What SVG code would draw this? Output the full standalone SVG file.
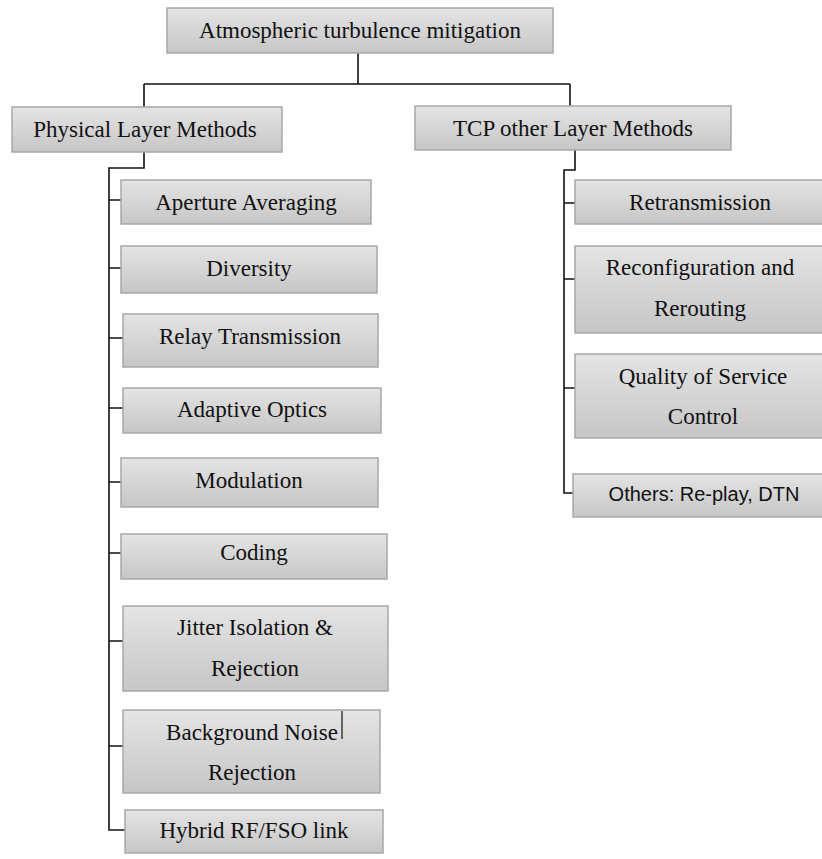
<svg xmlns="http://www.w3.org/2000/svg" width="822" height="859" viewBox="0 0 822 859">
<defs>
<linearGradient id="g" x1="0" y1="0" x2="0" y2="1">
<stop offset="0" stop-color="#e4e4e4"/>
<stop offset="1" stop-color="#c6c6c6"/>
</linearGradient>
</defs>
<style>
.b{fill:url(#g);stroke:#a8a8a8;stroke-width:1.5}
.t{font-family:"Liberation Serif","Times New Roman",serif;font-size:23px;fill:#111;text-anchor:middle}
.s{font-family:"Liberation Sans",Arial,sans-serif;font-size:20px;fill:#111;text-anchor:middle}
.c{fill:none;stroke:#111;stroke-width:1.6}
</style>
<rect width="822" height="859" fill="#fff"/>
<g id="connectors" class="c">
<path d="M358 53V84M144 84H570M144 84V107M570 84V106"/>
<path d="M144 152V168H109V830H125"/>
<path d="M109 200H121M109 268H121M109 338H123M109 408H123M109 482H121M109 553H121M109 641H123M109 746H123"/>
<path d="M575 150V170H564V493H573"/>
<path d="M564 203H575M564 279H575M564 388H575"/>
</g>
<g id="root"><rect class="b" x="167" y="8" width="386" height="45"/><text class="t" x="360" y="38">Atmospheric turbulence mitigation</text></g>
<g id="physical"><rect class="b" x="12" y="107" width="270" height="45"/><text class="t" x="145" y="137">Physical Layer Methods</text></g>
<g id="tcp"><rect class="b" x="415" y="106" width="316" height="44"/><text class="t" x="573" y="136">TCP other Layer Methods</text></g>
<g id="aperture"><rect class="b" x="121" y="180" width="250" height="44"/><text class="t" x="246" y="210">Aperture Averaging</text></g>
<g id="diversity"><rect class="b" x="121" y="246" width="256" height="47"/><text class="t" x="249" y="276">Diversity</text></g>
<g id="relay"><rect class="b" x="123" y="314" width="255" height="53"/><text class="t" x="250" y="344">Relay Transmission</text></g>
<g id="adaptive"><rect class="b" x="123" y="388" width="258" height="45"/><text class="t" x="252" y="417">Adaptive Optics</text></g>
<g id="modulation"><rect class="b" x="121" y="458" width="257" height="49"/><text class="t" x="249" y="488">Modulation</text></g>
<g id="coding"><rect class="b" x="121" y="534" width="266" height="45"/><text class="t" x="254" y="560">Coding</text></g>
<g id="jitter"><rect class="b" x="123" y="606" width="265" height="85"/><text class="t" x="255" y="635">Jitter Isolation &amp;</text><text class="t" x="255" y="676">Rejection</text></g>
<g id="background"><rect class="b" x="123" y="710" width="257" height="83"/><text class="t" x="252" y="740">Background Noise</text><text class="t" x="252" y="780">Rejection</text><line x1="342" y1="711" x2="342" y2="739" stroke="#111" stroke-width="1.2"/></g>
<g id="hybrid"><rect class="b" x="125" y="810" width="258" height="43"/><text class="t" x="254" y="838">Hybrid RF/FSO link</text></g>
<g id="retrans"><rect class="b" x="575" y="180" width="260" height="44"/><text class="t" x="700" y="210">Retransmission</text></g>
<g id="reconfig"><rect class="b" x="575" y="246" width="260" height="87"/><text class="t" x="700" y="275">Reconfiguration and</text><text class="t" x="700" y="316">Rerouting</text></g>
<g id="qos"><rect class="b" x="575" y="354" width="260" height="84"/><text class="t" x="703" y="384">Quality of Service</text><text class="t" x="703" y="424">Control</text></g>
<g id="others"><rect class="b" x="573" y="474" width="262" height="43"/><text class="s" x="704" y="501">Others: Re-play, DTN</text></g>
</svg>
